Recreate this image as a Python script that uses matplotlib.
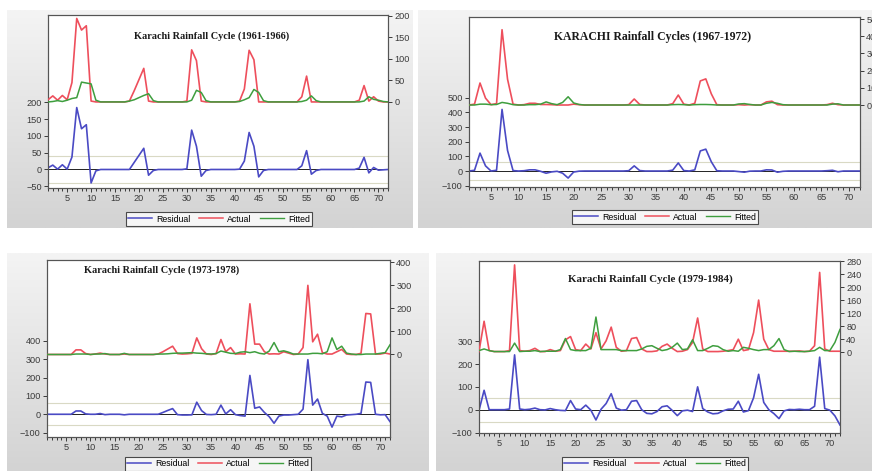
import numpy as np
import matplotlib
matplotlib.use('Agg')
import matplotlib.pyplot as plt
from matplotlib.colors import LinearSegmentedColormap
from matplotlib.lines import Line2D

W, H = 872, 471
months = list(range(1, 73))

# 1961-1966
actual_6166 = [5, 14, 4, 15, 5, 45, 194, 167, 177, 2, 0, 0,
               0, 0, 0, 0, 0, 2, 26, 52, 78, 2, 0, 0,
               0, 0, 0, 0, 0, 2, 121, 96, 2, 0, 0, 0,
               0, 0, 0, 0, 2, 30, 120, 98, 0, 0, 0, 0,
               0, 0, 0, 0, 0, 12, 60, 0, 0, 0, 0, 0,
               0, 0, 0, 0, 0, 4, 38, 2, 12, 2, 0, 0]
fitted_6166 = [0, 1, 3, 1, 4, 8, 10, 46, 44, 42, 4, 0,
               0, 0, 0, 0, 0, 2, 5, 10, 15, 19, 3, 0,
               0, 0, 0, 0, 0, 0, 4, 27, 22, 3, 0, 0,
               0, 0, 0, 0, 1, 5, 10, 29, 22, 3, 0, 0,
               0, 0, 0, 0, 0, 1, 4, 14, 3, 0, 0, 0,
               0, 0, 0, 0, 0, 0, 2, 12, 6, 4, 1, 0]
resid_6166 = [5, 13, 1, 14, 1, 37, 184, 121, 133, -40, -4, 0,
              0, 0, 0, 0, 0, 0, 21, 42, 63, -17, -3, 0,
              0, 0, 0, 0, 0, 2, 117, 69, -20, -3, 0, 0,
              0, 0, 0, 0, 1, 25, 110, 69, -22, -3, 0, 0,
              0, 0, 0, 0, 0, 11, 56, -14, -3, 0, 0, 0,
              0, 0, 0, 0, 0, 4, 36, -10, 6, -2, -1, 0]

# 1967-1972
actual_6772 = [0, 5, 128, 40, 2, 8, 438, 150, 5, 0, 2, 10,
               10, 3, 3, 2, 0, 0, 0, 5, 2, 0, 0, 0,
               0, 0, 0, 0, 0, 2, 35, 3, 0, 0, 0, 0,
               0, 8, 58, 5, 0, 10, 140, 152, 65, 2, 0, 0,
               0, 2, 0, 2, 0, 0, 18, 22, 2, 0, 0, 0,
               0, 0, 0, 0, 0, 2, 10, 2, 0, 0, 0, 0]
fitted_6772 = [0, 0, 5, 5, 2, 3, 15, 10, 2, 0, 0, 2,
               2, 5, 18, 8, 2, 15, 48, 12, 3, 0, 0, 0,
               0, 0, 0, 0, 0, 0, 0, 0, 0, 0, 0, 0,
               0, 2, 3, 2, 0, 2, 3, 3, 2, 0, 0, 0,
               0, 6, 8, 3, 0, 0, 10, 15, 10, 2, 0, 0,
               0, 0, 0, 0, 0, 0, 5, 7, 0, 0, 0, 0]
resid_6772 = [0, 5, 122, 35, 0, 5, 420, 140, 3, 0, 2, 8,
              8, -2, -15, -6, -2, -15, -48, -7, -1, 0, 0, 0,
              0, 0, 0, 0, 0, 2, 35, 3, 0, 0, 0, 0,
              0, 6, 55, 3, 0, 8, 137, 149, 63, 2, 0, 0,
              0, -4, -8, -1, 0, 0, 8, 7, -8, -2, 0, 0,
              0, 0, 0, 0, 0, 2, 5, -5, 0, 0, 0, 0]

# 1973-1978
actual_7378 = [0, 0, 0, 0, 0, 0, 20, 20, 4, 0, 2, 6,
               2, 0, 0, 0, 2, 0, 0, 0, 0, 0, 0, 2,
               12, 24, 36, 4, 2, 3, 5, 72, 25, 2, 0, 4,
               65, 12, 30, 2, 3, 2, 220, 45, 45, 12, 2, 3,
               2, 12, 6, 0, 2, 30, 300, 55, 88, 8, 2, 2,
               12, 22, 2, 0, 0, 5, 178, 176, 2, 2, 6, 2]
fitted_7378 = [0, 0, 0, 0, 0, 0, 2, 2, 2, 0, 2, 2,
               4, 0, 0, 0, 5, 0, 0, 0, 0, 0, 0, 2,
               2, 3, 5, 6, 6, 7, 8, 6, 5, 3, 2, 4,
               15, 10, 5, 4, 10, 12, 8, 12, 5, 2, 15, 52,
               12, 16, 10, 2, 2, 2, 2, 5, 5, 3, 12, 72,
               22, 36, 6, 2, 0, 0, 2, 2, 2, 5, 8, 42]
resid_7378 = [0, 0, 0, 0, 0, 0, 18, 18, 2, 0, 0, 4,
              -2, 0, 0, 0, -3, 0, 0, 0, 0, 0, 0, 0,
              10, 21, 31, -2, -4, -4, -3, 66, 20, -1, -2, 0,
              50, 2, 25, -2, -7, -10, 212, 33, 40, 10, -13, -49,
              -10, -4, -4, -2, 0, 28, 298, 50, 83, 5, -10, -70,
              -10, -14, -4, -2, 0, 5, 176, 174, 0, -3, -2, -40]

# 1979-1984
actual_7984 = [2, 95, 5, 2, 2, 2, 5, 268, 5, 3, 5, 12,
               2, 2, 8, 3, 5, 38, 48, 8, 5, 25, 10, 60,
               10, 35, 77, 15, 3, 5, 42, 45, 10, 2, 2, 4,
               18, 25, 12, 2, 3, 8, 30, 105, 10, 2, 2, 2,
               3, 5, 8, 40, 5, 8, 60, 160, 40, 8, 3, 3,
               3, 3, 3, 4, 2, 3, 20, 245, 10, 3, 3, 3]
fitted_7984 = [5, 10, 5, 2, 2, 2, 2, 28, 2, 3, 3, 5,
               2, 3, 3, 3, 8, 42, 8, 5, 5, 5, 12, 108,
               8, 8, 8, 8, 5, 5, 5, 5, 10, 18, 20, 12,
               5, 8, 15, 28, 8, 10, 38, 5, 5, 12, 20, 18,
               8, 3, 5, 3, 15, 12, 8, 5, 8, 8, 20, 42,
               8, 2, 3, 2, 2, 3, 5, 15, 5, 5, 30, 70]
resid_7984 = [-3, 85, 0, 0, 0, 0, 3, 240, 3, 0, 2, 7,
              0, -1, 5, 0, -3, -4, 40, 3, 0, 20, -2, -45,
              2, 27, 70, 7, -2, 0, 37, 40, 0, -16, -18, -8,
              13, 17, -3, -26, -5, -2, -8, 100, 5, -10, -18, -16,
              -5, 2, 3, 37, -10, -4, 52, 155, 32, 0, -17, -39,
              -5, 1, 0, 2, 0, 0, 15, 230, 5, -2, -27, -67]

titles = ['Karachi Rainfall Cycle (1961-1966)', 'KARACHI Rainfall Cycles (1967-1972)',
          'Karachi Rainfall Cycle (1973-1978)', 'Karachi Rainfall Cycle (1979-1984)']

c_res, c_act, c_fit = '#4a4ac4', '#ee4f5c', '#3e9e3e'
tick_color = '#3a3a3a'
sans = 'Liberation Sans'
serif = 'Liberation Serif'


def fr(x0, y0, x1, y1):
    return [x0 / W, 1 - y1 / H, (x1 - x0) / W, (y1 - y0) / H]


fig = plt.figure(figsize=(W / 100, H / 100), dpi=100)
fig.patch.set_facecolor('white')

grad = np.linspace(0, 1, 200).reshape(-1, 1)
gcmap = LinearSegmentedColormap.from_list('g', ['#f4f4f4', '#d3d3d3'])


def panel(box, frame, act, fit, res, ylim_l, ylim_r, yt_l, yt_r, se,
          title, title_xy, title_size, legend_xy):
    bg = fig.add_axes(fr(*box), zorder=0)
    bg.imshow(grad, aspect='auto', cmap=gcmap, extent=[0, 1, 0, 1])
    bg.axis('off')

    ax = fig.add_axes(fr(*frame), zorder=1)
    ax.set_facecolor('white')
    ax.axhline(0, color='#222222', lw=0.7, zorder=1)
    ax.axhline(se, color='#d9d9c4', lw=0.8, zorder=1)
    ax.axhline(-se, color='#d9d9c4', lw=0.8, zorder=1)
    ax.plot(months, res, color=c_res, lw=1.2, zorder=3)
    ax.set_ylim(*ylim_l)
    ax.set_yticks(yt_l)
    ax.set_xlim(1, 72)
    ax.set_xticks(range(5, 71, 5))
    ax.set_xticks(range(1, 73), minor=True)

    ax2 = ax.twinx()
    ax2.plot(months, act, color=c_act, lw=1.2, zorder=3)
    ax2.plot(months, fit, color=c_fit, lw=1.1, zorder=3)
    ax2.set_ylim(*ylim_r)
    ax2.set_yticks(yt_r)

    for a in (ax, ax2):
        a.tick_params(which='both', direction='out', colors=tick_color,
                      labelsize=6.6, width=0.7, pad=1.5)
        a.tick_params(which='major', length=3)
        a.tick_params(which='minor', length=2)
        for s in a.spines.values():
            s.set_color('#555555')
            s.set_linewidth(0.8)
        for lab in a.get_xticklabels() + a.get_yticklabels():
            lab.set_fontfamily(sans)

    fig.text(title_xy[0] / W, 1 - title_xy[1] / H, title, ha='center', va='center',
             fontfamily=serif, fontweight='bold', fontsize=title_size, color='#1a1a1a',
             zorder=5)

    handles = [Line2D([], [], color=c_res, lw=1.1),
               Line2D([], [], color=c_act, lw=1.1),
               Line2D([], [], color=c_fit, lw=1.0)]
    leg = fig.legend(handles, ['Residual', 'Actual', 'Fitted'], loc='center',
                     bbox_to_anchor=(legend_xy[0] / W, 1 - legend_xy[1] / H),
                     ncol=3, frameon=True, fancybox=False,
                     handlelength=2.7, columnspacing=1.0, handletextpad=0.5,
                     borderpad=0.25, prop={'family': sans, 'size': 6.3})
    leg.get_frame().set_edgecolor('#222222')
    leg.get_frame().set_linewidth(0.8)
    leg.set_zorder(6)


panel((7, 10, 413, 228), (48, 15, 388, 188), actual_6166, fitted_6166, resid_6166,
      (-55, 459), (-200, 202), [-50, 0, 50, 100, 150, 200], [0, 50, 100, 150, 200], 41,
      titles[0], (212, 36), 7.4, (219, 219))
panel((418, 10, 872, 228), (469, 17, 860, 187), actual_6772, fitted_6772, resid_6772,
      (-109, 1050), (-477, 512), [-100, 0, 100, 200, 300, 400, 500],
      [0, 100, 200, 300, 400, 500], 60,
      titles[1], (653, 37), 8.5, (665, 217))
panel((7, 253, 428, 471), (47, 260, 390, 437), actual_7378, fitted_7378, resid_7378,
      (-124, 842), (-358, 410), [-100, 0, 100, 200, 300, 400], [0, 100, 200, 300, 400], 60,
      titles[2], (162, 270), 7.4, (218, 464))
panel((436, 253, 872, 471), (479, 261, 840, 433), actual_7984, fitted_7984, resid_7984,
      (-102, 651), (-248, 280), [-100, 0, 100, 200, 300],
      [0, 40, 80, 120, 160, 200, 240, 280], 52,
      titles[3], (650, 279), 7.8, (655, 464))

fig.savefig('out.png', dpi=100)
